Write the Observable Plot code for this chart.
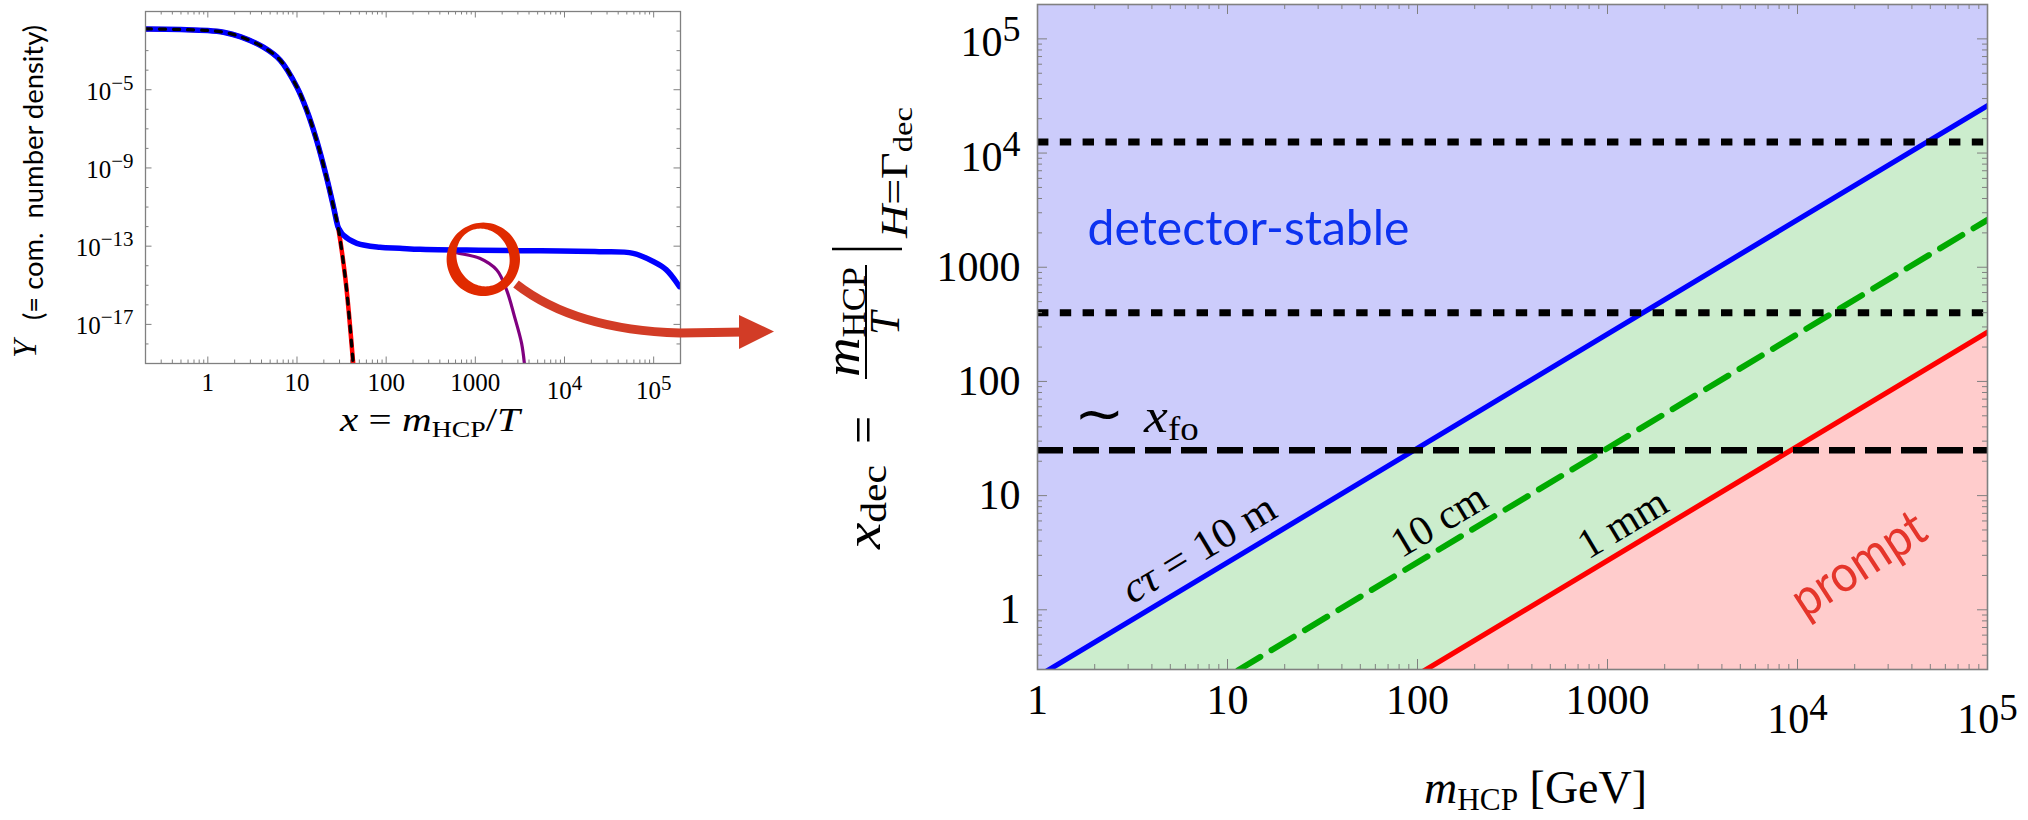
<!DOCTYPE html>
<html>
<head>
<meta charset="utf-8">
<script src="https://cdn.jsdelivr.net/npm/d3@7"></script>
<script src="https://cdn.jsdelivr.net/npm/@observablehq/plot@0.6"></script>
<style>
  html, body { margin: 0; padding: 0; background: #fff; }
  #figure { position: relative; width: 2028px; height: 820px; overflow: hidden; background: #fff; }
  #figure > svg { position: absolute; }
  #figure text { white-space: pre; }
</style>
</head>
<body>
<div id="figure"></div>
<script>
// ---------- Inset: comoving number density Y against x = m/T ----------
const insetXDomain = [0.2, 2e5];
const insetYDomain = [1e-19, 0.1];
const insetXTicks = [1, 10, 100, 1000, 1e4, 1e5];
const insetYTicks = [1e-5, 1e-9, 1e-13, 1e-17];

// equilibrium abundance (red, with black dashes on top)
const eqX = [0.2, 0.5, 1, 1.5, 2.3, 4.2, 6.5, 10, 12.9, 16.6, 21.4, 25.7, 28.8, 34.7, 38.5, 42.7];
const eqY = [0.0129, 0.012, 0.0107, 8.7e-3, 5.2e-3, 1.5e-3, 3.2e-4, 1.35e-5, 8.7e-7, 2.6e-8, 3.5e-10, 1.0e-11, 1.0e-12, 2.75e-15, 2.5e-17, 1e-19];

// frozen-out abundance, stable up to late times (blue)
const hcpX = [0.2, 0.5, 1, 1.5, 2.3, 4.2, 6.5, 10, 12.9, 16.6, 21.4, 25.7, 28.8, 30.2, 33, 47, 85, 142, 240, 800, 3000, 2.45e4, 5.9e4, 1.0e5, 1.38e5, 1.95e5];
const hcpY = [0.0129, 0.012, 0.0107, 8.7e-3, 5.2e-3, 1.5e-3, 3.2e-4, 1.35e-5, 8.7e-7, 2.6e-8, 3.5e-10, 1.0e-11, 1.0e-12, 6.6e-13, 3.7e-13, 1.38e-13, 8.7e-14, 7.8e-14, 6.9e-14, 6.3e-14, 5.9e-14, 5.2e-14, 4.3e-14, 1.6e-14, 6.3e-15, 8.5e-16];

// abundance of a decaying species (purple)
const decX = [250, 500, 617, 1120, 1740, 2240, 2750, 3300, 3550];
const decY = [6.8e-14, 6.1e-14, 4.6e-14, 2.4e-14, 6e-15, 5.8e-16, 2.5e-17, 1.1e-18, 1e-19];

// ---------- Main panel: x_dec against m_HCP ----------
const massRange = [1, 1e5];          // GeV
const xdecRange = [0.3, 2e5];
const mainXTicks = [1, 10, 100, 1000, 1e4, 1e5];
const mainYTicks = [1, 10, 100, 1000, 1e4, 1e5];
const decayLengths = ["cτ = 10 m", "10 cm", "1 mm"];
const xdecAtLowMass = [0.26, 0.026, 0.0027];   // x_dec at m = 1 GeV
const xdecAtHighMass = [2.6e4, 2.6e3, 270];    // x_dec at m = 1e5 GeV
const labelMass = [7.06, 129.5, 1200];
const xFreezeOut = 25;
const dottedLevels = [1.25e4, 400];

// ---------- helpers ----------
const rows = (xs, ys) => xs.map((x, i) => ({x, y: ys[i]}));
const powFmt = d => (d >= 1e4 || d < 1) ? `10^${Math.round(Math.log10(d))}` : String(d);
function minorLog(lo, hi) {
  const out = [];
  for (let e = Math.floor(Math.log10(lo)) - 1; e <= Math.ceil(Math.log10(hi)); e++)
    for (let k = 2; k <= 9; k++) { const v = k * 10 ** e; if (v > lo * 1.0001 && v < hi / 1.0001) out.push(v); }
  return out;
}
function decades(lo, hi, skip) {
  const out = [];
  for (let e = Math.ceil(Math.log10(lo)); e <= Math.floor(Math.log10(hi)); e++) {
    const v = 10 ** e; if (!skip.some(s => Math.abs(Math.log10(s) - e) < 1e-6)) out.push(v);
  }
  return out;
}
// inward frame ticks on all four sides
function frameTicks({xMajor, xMinor, yMajor, yMinor, iw, ih, major, minor, stroke = "#808080", sw = 1}) {
  const o = {stroke, strokeWidth: sw};
  return [
    Plot.tickX(xMajor, {x: d => d, insetTop: ih - major, ...o}),
    Plot.tickX(xMajor, {x: d => d, insetBottom: ih - major, ...o}),
    Plot.tickX(xMinor, {x: d => d, insetTop: ih - minor, ...o}),
    Plot.tickX(xMinor, {x: d => d, insetBottom: ih - minor, ...o}),
    Plot.tickY(yMajor, {y: d => d, insetRight: iw - major, ...o}),
    Plot.tickY(yMajor, {y: d => d, insetLeft: iw - major, ...o}),
    Plot.tickY(yMinor, {y: d => d, insetRight: iw - minor, ...o}),
    Plot.tickY(yMinor, {y: d => d, insetLeft: iw - minor, ...o})
  ];
}
// rewrite "10^k" tick labels of one axis with a raised exponent
function superscripts(svg, axis, {shift, raise, size}) {
  d3.select(svg).selectAll(`g[aria-label="${axis}-axis tick label"] text`).each(function () {
    const s = this.textContent;
    if (!s.includes("^")) return;
    const [base, exp] = s.split("^");
    const t = d3.select(this).text(null);
    t.append("tspan").attr("dy", shift).text(base);
    t.append("tspan").attr("dy", -raise).attr("font-size", size).text(exp.replace("-", "\u2212"));
  });
}
// mixed italic / subscript labels, optionally fitted to a given length
function richText(svg, dict) {
  d3.select(svg).selectAll("text").each(function () {
    const spec = dict[this.textContent];
    if (!spec) return;
    const t = d3.select(this).text(null);
    let cur = 0;
    for (const [str, o = {}] of spec.parts) {
      const ts = t.append("tspan").text(str);
      const d = o.d || 0;
      if (d !== cur) { ts.attr("dy", d - cur); cur = d; }
      if (o.i) ts.attr("font-style", "italic");
      if (o.s) ts.attr("font-size", o.s);
      if (o.dx) ts.attr("dx", o.dx);
    }
    if (spec.len) t.attr("textLength", spec.len).attr("lengthAdjust", "spacingAndGlyphs");
  });
}
function fitText(svg, str, len) {
  d3.select(svg).selectAll("text").filter(function () { return this.textContent === str; })
    .attr("textLength", len).attr("lengthAdjust", "spacingAndGlyphs");
}
const SERIF = "'Liberation Serif', 'Times New Roman', serif";
const SANS = "Lato, 'Open Sans', sans-serif";

// ---------- inset plot ----------
const L = {w: 700, h: 445, ml: 145, mr: 20, mt: 11, mb: 82};
const lIW = L.w - L.ml - L.mr, lIH = L.h - L.mt - L.mb;
const insetLine = {x: "x", y: "y", curve: "catmull-rom", clip: true};
const inset = Plot.plot({
  width: L.w, height: L.h, marginLeft: L.ml, marginRight: L.mr, marginTop: L.mt, marginBottom: L.mb,
  x: {type: "log", domain: insetXDomain},
  y: {type: "log", domain: insetYDomain},
  style: {fontFamily: SERIF, fontSize: "25px", background: "transparent", overflow: "visible", color: "#000"},
  marks: [
    ...frameTicks({
      xMajor: insetXTicks, xMinor: minorLog(...insetXDomain),
      yMajor: insetYTicks, yMinor: decades(...insetYDomain, insetYTicks),
      iw: lIW, ih: lIH, major: 6.5, minor: 3.5
    }),
    Plot.line(rows(eqX, eqY), {...insetLine, stroke: "#ff0000", strokeWidth: 4.5}),
    Plot.line(rows(decX, decY), {...insetLine, stroke: "#800080", strokeWidth: 3.2}),
    Plot.line(rows(hcpX, hcpY), {...insetLine, stroke: "#0000ff", strokeWidth: 5.5}),
    Plot.line(rows(eqX, eqY), {...insetLine, stroke: "#000", strokeWidth: 3.3, strokeDasharray: "6 8"}),
    Plot.frame({stroke: "#808080", strokeWidth: 1.3}),
    Plot.axisX({ticks: insetXTicks, tickSize: 0, tickPadding: 10, tickFormat: powFmt, label: null, fontSize: 25}),
    Plot.axisY({ticks: insetYTicks, tickSize: 0, tickPadding: 12, tickFormat: powFmt, label: null, fontSize: 25}),
    Plot.text(["x = m_HCP/T"], {frameAnchor: "bottom", lineAnchor: "bottom", dx: 17, dy: 67, fontSize: 34})
  ]
});
inset.style.left = "0px"; inset.style.top = "0px";
superscripts(inset, "x", {shift: 8, raise: 9, size: 21});
superscripts(inset, "y", {shift: 2, raise: 10, size: 21});
richText(inset, {
  "x = m_HCP/T": {len: 180, parts: [["x", {i: 1}], [" = "], ["m", {i: 1}], ["HCP", {s: 23, d: 6}], ["/"], ["T", {i: 1}]]}
});
// rotated y title
{
  const g = d3.select(inset).append("g").attr("transform", "translate(40,358) rotate(-90)")
    .attr("text-anchor", "start");
  g.append("text").attr("x", 0).attr("y", -4).attr("font-family", SERIF).attr("font-style", "italic")
    .attr("font-size", 33).text("Y");
  g.append("text").attr("x", 38).attr("y", 3).attr("font-family", SANS).attr("font-size", 26)
    .attr("textLength", 295).attr("lengthAdjust", "spacingAndGlyphs")
    .text("(= com.\u00a0 number density)");
}

// ---------- main plot ----------
const M = {w: 1188, h: 820, ml: 197, mr: 41, mt: 4, mb: 151};
const mIW = M.w - M.ml - M.mr, mIH = M.h - M.mt - M.mb;
const lineColors = ["#0000ff", "#00aa00", "#ff0000"];
const lineDash = [null, "26 13", null];
const lineWidth = [5.2, 6, 5.2];
const lineRows = decayLengths.map((_, i) => [
  {m: massRange[0], x: xdecAtLowMass[i]},
  {m: massRange[1], x: xdecAtHighMass[i]}
]);
// point on decay line i at mass m (straight in log-log)
const onLine = (i, m) => xdecAtLowMass[i] *
  (xdecAtHighMass[i] / xdecAtLowMass[i]) ** (Math.log(m / massRange[0]) / Math.log(massRange[1] / massRange[0]));
const bandRows = [0, 1].map(j => ({m: massRange[j], hi: lineRows[0][j].x, lo: lineRows[2][j].x}));
const lineLabelRows = decayLengths.map((t, i) => ({t, m: labelMass[i], x: onLine(i, labelMass[i])}));
const lineLabelDy = [-31, -29, -28];

const main = Plot.plot({
  width: M.w, height: M.h, marginLeft: M.ml, marginRight: M.mr, marginTop: M.mt, marginBottom: M.mb,
  x: {type: "log", domain: massRange},
  y: {type: "log", domain: xdecRange},
  style: {fontFamily: SERIF, fontSize: "42px", background: "transparent", overflow: "visible", color: "#000"},
  marks: [
    Plot.frame({fill: "#ccccfb", stroke: null}),
    Plot.areaY(bandRows, {x: "m", y1: "lo", y2: "hi", fill: "#ccedcd", clip: true}),
    Plot.areaY(bandRows, {x: "m", y1: () => xdecRange[0], y2: "lo", fill: "#ffcccc", clip: true}),
    ...lineRows.map((r, i) => Plot.line(r, {
      x: "m", y: "x", stroke: lineColors[i], strokeWidth: lineWidth[i], strokeDasharray: lineDash[i], clip: true
    })),
    Plot.ruleY(dottedLevels, {stroke: "#000", strokeWidth: 7, strokeDasharray: "11.4 11.4"}),
    Plot.ruleY([xFreezeOut], {stroke: "#000", strokeWidth: 6.5, strokeDasharray: "26 10"}),
    ...frameTicks({
      xMajor: mainXTicks, xMinor: minorLog(...massRange),
      yMajor: mainYTicks, yMinor: minorLog(...xdecRange),
      iw: mIW, ih: mIH, major: 10, minor: 5
    }),
    Plot.frame({stroke: "#808080", strokeWidth: 1.6}),
    Plot.axisX({ticks: mainXTicks, tickSize: 0, tickPadding: 15, tickFormat: powFmt, label: null, fontSize: 42}),
    Plot.axisY({ticks: mainYTicks, tickSize: 0, tickPadding: 17, tickFormat: powFmt, label: null, fontSize: 42}),
    ...lineLabelRows.map((r, i) => Plot.text([r], {
      x: "m", y: "x", text: "t", rotate: -31, dy: lineLabelDy[i], fontSize: 42
    })),
    Plot.text(["detector-stable"], {x: 12.9, y: 2120, fontFamily: SANS, fontSize: 48, fill: "#0d33f0"}),
    Plot.text(["prompt"], {x: 2.1e4, y: 2.5, rotate: -33, fontFamily: SANS, fontSize: 52, fill: "#e5352b"}),
    Plot.text(["~ xfo"], {x: 1.55, y: xFreezeOut, textAnchor: "start", lineAnchor: "bottom", dy: -18, fontSize: 48}),
    Plot.text(["m_HCP [GeV]"], {frameAnchor: "bottom", lineAnchor: "bottom", dx: 23, dy: 133, fontSize: 47})
  ]
});
main.style.left = "840px"; main.style.top = "0px";
superscripts(main, "x", {shift: 19, raise: 13, size: 37});
superscripts(main, "y", {shift: 4, raise: 15, size: 36});
richText(main, {
  "cτ = 10 m": {len: 172, parts: [["cτ", {i: 1}], [" = 10 m"]]},
  "~ xfo": {len: 125, parts: [["\u223C", {s: 54}], ["x", {i: 1, dx: 18}], ["fo", {s: 33, d: 8}]]},
  "m_HCP [GeV]": {len: 223, parts: [["m", {i: 1}], ["HCP", {s: 32, d: 7}], [" [GeV]"]]}
});
fitText(main, "detector-stable", 322);
fitText(main, "prompt", 150);
// rotated y title: x_dec = (m_HCP / T)|_{H = Γ_dec}
{
  const g = d3.select(main).append("g").attr("transform", "translate(40,549) rotate(-90)")
    .attr("font-family", SERIF).attr("fill", "#000").attr("text-anchor", "start");
  const put = (x, y, parts, len) => {
    const t = g.append("text").attr("x", x).attr("y", y);
    let cur = 0;
    for (const [str, size, italic, d = 0] of parts) {
      const ts = t.append("tspan").attr("font-size", size).text(str);
      if (italic) ts.attr("font-style", "italic");
      if (d !== cur) { ts.attr("dy", d - cur); cur = d; }
    }
    if (len) t.attr("textLength", len).attr("lengthAdjust", "spacingAndGlyphs");
  };
  put(0, 0, [["x", 50, true], ["dec", 35, false, 6]], 84);
  put(105, 0, [["=", 50]]);
  put(172, -21, [["m", 50, true], ["HCP", 33, false, 6]], 110);
  g.append("line").attr("x1", 170).attr("x2", 284).attr("y1", -14).attr("y2", -14)
    .attr("stroke", "#000").attr("stroke-width", 2);
  put(214, 19, [["T", 42, true]]);
  g.append("line").attr("x1", 300).attr("x2", 300).attr("y1", -48).attr("y2", 22)
    .attr("stroke", "#000").attr("stroke-width", 2.5);
  put(311, 27, [["H", 38, true], ["=", 38], ["\u0393", 38], ["dec", 27, false, 5]], 131);
}

const fig = document.getElementById("figure");
fig.appendChild(inset);
fig.appendChild(main);

// ---------- highlight ring and arrow linking the two panels ----------
function ellipsePath(cx, cy, rx, ry, deg) {
  const a = deg * Math.PI / 180, pts = [];
  for (let k = 0; k < 96; k++) {
    const t = 2 * Math.PI * k / 96, ex = rx * Math.cos(t), ey = ry * Math.sin(t);
    pts.push([cx + ex * Math.cos(a) - ey * Math.sin(a), cy + ex * Math.sin(a) + ey * Math.cos(a)]);
  }
  return "M" + pts.map(p => p.map(v => v.toFixed(2)).join(",")).join("L") + "Z";
}
const ov = d3.select(fig).append("svg").attr("width", 2028).attr("height", 820)
  .style("left", "0px").style("top", "0px");
ov.append("path").attr("d", "M516,284 Q575,330 680,333 L745,332")
  .attr("fill", "none").attr("stroke", "#d23c26").attr("stroke-width", 9);
ov.append("path").attr("d", "M739,315 L774,331.5 L739,349 Z").attr("fill", "#d23c26");
ov.append("path").attr("d", ellipsePath(483.3, 259.3, 36.7, 36.7, 0) + ellipsePath(483, 257.5, 26, 29.5, -25))
  .attr("fill-rule", "evenodd").attr("fill", "#e02a00");
</script>
</body>
</html>
